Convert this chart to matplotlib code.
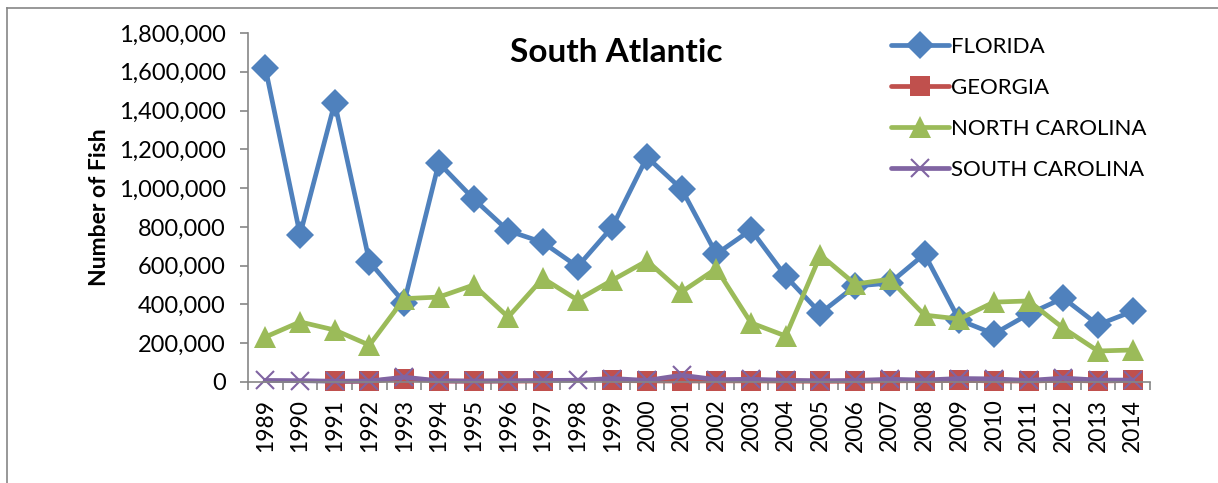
import matplotlib
matplotlib.use("Agg")
import matplotlib.pyplot as plt
import numpy as np
from matplotlib.ticker import FuncFormatter, FixedLocator
from matplotlib.lines import Line2D

years = [str(y) for y in range(1989, 2015)]
florida = [1620000, 760000, 1440000, 620000, 410000, 1130000, 945000, 780000, 720000, 595000,
           800000, 1160000, 995000, 660000, 785000, 545000, 355000, 495000, 510000, 660000,
           320000, 248000, 350000, 433000, 295000, 365000]
georgia = [np.nan, np.nan, 3000, 4000, 18000, 5000, 4000, 5000, 5000, np.nan,
           8000, 6000, 5000, 6000, 6000, 5000, 4000, 4000, 6000, 7000,
           8000, 6000, 5000, 9000, 5000, 8000]
north_carolina = [232000, 310000, 268000, 190000, 430000, 438000, 500000, 335000, 535000, 423000,
                  525000, 625000, 465000, 585000, 305000, 237000, 655000, 505000, 530000, 345000,
                  325000, 412000, 418000, 278000, 160000, 165000]
south_carolina = [8000, 7000, 4000, 5000, 25000, 6000, 5000, 6000, 8000, 9000,
                  18000, 8000, 35000, 12000, 14000, 9000, 6000, 8000, 14000, 10000,
                  18000, 16000, 8000, 20000, 10000, 10000]

series = [
    ("FLORIDA", florida, "#4F81BD", "D", 14),
    ("GEORGIA", georgia, "#C0504D", "s", 15),
    ("NORTH CAROLINA", north_carolina, "#9BBB59", "^", 15.5),
    ("SOUTH CAROLINA", south_carolina, "#8064A2", "x", 13),
]

plt.rcParams['font.family'] = ['Lato', 'DejaVu Sans']

W, H = 1218, 483
fig = plt.figure(figsize=(W / 100, H / 100), dpi=100)
ax = fig.add_axes([248 / W, 1 - 382 / H, (1150 - 248) / W, (382 - 33) / H])

x = np.arange(len(years))
handles = []
for name, vals, color, marker, ms in series:
    v = np.array(vals, dtype=float)
    kw = dict(color=color, lw=3.4, marker=marker, markersize=ms, label=name, solid_capstyle='round')
    if marker == 'x':
        kw.update(markeredgewidth=1.5, markeredgecolor=color)
    else:
        kw.update(markeredgewidth=0)
    ln, = ax.plot(x, v, **kw, clip_on=False)
    handles.append(ln)

ax.set_xlim(-0.5, len(years) - 0.5)
ax.set_ylim(0, 1800000)
ax.set_yticks(np.arange(0, 1800001, 200000))
ax.yaxis.set_major_formatter(FuncFormatter(lambda v, p: f"{int(v):,}"))
ax.set_xticks(x)
ax.set_xticklabels(years, rotation=90)
ax.xaxis.set_minor_locator(FixedLocator(np.arange(-0.5, len(years), 1.0)))
ax.tick_params(axis='x', which='major', length=0, labelsize=16.5, pad=12)
ax.tick_params(axis='x', which='minor', length=6, color='#868686', width=1.2)
ax.tick_params(axis='y', length=6, color='#868686', width=1.2, labelsize=17, pad=10)

for s in ['top', 'right']:
    ax.spines[s].set_visible(False)
for s in ['left', 'bottom']:
    ax.spines[s].set_color('#868686')
    ax.spines[s].set_linewidth(1.2)

ax.set_ylabel("Number of Fish", fontsize=16.5, fontweight='bold', labelpad=6)
fig.text(616 / W, 1 - 52 / H, "South Atlantic", fontsize=24, fontweight='bold',
         ha='center', va='center')

leg = fig.legend(handles=handles, loc='upper left', bbox_to_anchor=(882 / W, 1 - 28 / H),
                 frameon=False, fontsize=16, handlelength=2.6, handletextpad=0.1,
                 labelspacing=0.95, borderaxespad=0)

# outer chart border (only left/top visible in the crop)
fig.add_artist(Line2D([7 / W, 7 / W], [0, 1 - 8 / H], transform=fig.transFigure,
                      color='#868686', lw=1.2))
fig.add_artist(Line2D([7 / W, 1], [1 - 8 / H, 1 - 8 / H], transform=fig.transFigure,
                      color='#868686', lw=1.2))

fig.savefig("out.png", dpi=100)
